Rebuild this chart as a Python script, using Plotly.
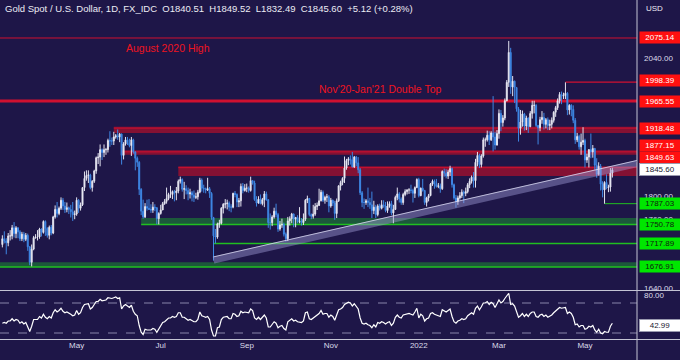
import pandas as pd
import plotly.graph_objects as go

# ---------------- data ----------------
title_text = "Gold Spot / U.S. Dollar, 1D, FX_IDC  O1840.51  H1849.52  L1832.49  C1845.60  +5.12 (+0.28%)"
first_date = "2021-03-10"

opens = [
    1716,1726,1722,1719,1731,1731,1745,1735,1745,1738,1726,1734,1725,1732,1712,1685,
    1708,1728,1729,1729,1743,1737,1756,1744,1732,1746,1736,1764,1777,1770,1779,1793,1783,1777,1780,1777,1773,1768,
    1769,1793,1779,1785,1815,1831,1836,1837,1815,1826,1844,1867,1868,1881,1876,1881,1881,1897,1896,1896,1903,
    1905,1903,1908,1871,1891,1898,1893,1888,1898,1877,1866,1859,1812,1774,1764,1782,1779,1777,1776,1781,1780,1761,
    1770,1776,1787,1791,1796,1803,1803,1808,1806,1809,1826,1829,1812,1813,1810,1804,1806,1802,1798,1799,1807,1828,
    1814,1813,1811,1813,1805,1763,1731,1729,1752,1753,1779,1786,1787,1788,1781,1781,1805,1803,1790,1792,1817,1810,
    1814,1814,1810,1827,1823,1794,1788,1795,1787,1794,1804,1794,1754,1754,1764,1774,1768,1743,1750,1751,1734,1726,
    1757,1761,1769,1760,1763,1756,1757,1754,1760,1793,1796,1768,1765,1769,1782,1784,1792,1807,1793,1798,1799,
    1783,1793,1788,1770,1792,1818,1824,1831,1849,1862,1865,1863,1851,1868,1858,1846,1806,1789,1789,1792,1789,1785,
    1775,1781,1768,1783,1779,1785,1783,1775,1783,1787,1771,1777,1798,1804,1795,1789,1803,1808,1811,1811,1810,1805,1815,
    1829,1801,1814,1810,1789,1797,1801,1821,1826,1821,1817,1818,1813,1843,1840,1835,1842,1848,1820,1797,1791,
    1797,1801,1807,1805,1808,1820,1826,1833,1827,1859,1871,1855,1870,1898,1898,1906,1898,1910,1903,1889,
    1909,1944,1928,1936,1966,1998,2050,1990,2000,1989,1952,1918,1929,1943,1922,1936,1921,1944,1958,1958,1923,1919,1933,
    1937,1925,1933,1923,1925,1932,1946,1954,1966,1977,1974,1975,1979,1950,1958,1951,1932,1898,1904,1886,1894,
    1897,1863,1868,1881,1877,1883,1854,1838,1852,1821,1811,1824,1815,1816,1840.51,
]
highs = [
    1732,1739,1727,1736,1741,1750,1755,1748,1746,1741,1738,1738,1736,1735,1713,1716,
    1731,1734,1741,1745,1744,1758,1758,1746,1749,1750,1766,1784,1790,1782,1798,1797,1790,1789,1782,1785,1790,1775,
    1798,1795,1789,1816,1843,1845,1845,1839,1828,1846,1869,1875,1890,1883,1890,1884,1900,1913,1902,1912,1908,
    1916,1910,1909,1894,1903,1903,1900,1903,1900,1878,1869,1861,1814,1794,1788,1794,1795,1786,1790,1786,1781,1772,
    1785,1790,1795,1815,1806,1818,1810,1811,1816,1829,1834,1831,1825,1819,1815,1813,1809,1810,1806,1811,1832,1831,
    1820,1815,1832,1816,1807,1764,1743,1754,1759,1781,1788,1795,1794,1791,1786,1806,1809,1805,1797,1822,1823,1821,
    1822,1817,1834,1828,1827,1800,1800,1803,1797,1809,1808,1795,1770,1767,1780,1787,1771,1757,1761,1754,1737,1764,
    1765,1771,1770,1764,1767,1781,1762,1770,1795,1801,1797,1770,1785,1788,1789,1813,1811,1810,1801,1804,1802,
    1797,1794,1792,1796,1819,1827,1833,1869,1865,1868,1871,1877,1870,1870,1868,1849,1809,1796,1795,1815,1797,1808,
    1792,1785,1786,1787,1793,1793,1790,1791,1791,1792,1785,1801,1815,1807,1798,1806,1812,1812,1814,1820,1813,1817,1831,
    1832,1815,1830,1811,1799,1804,1823,1829,1829,1830,1823,1822,1845,1848,1847,1846,1853,1850,1822,1802,1801,
    1807,1812,1810,1815,1823,1831,1836,1842,1865,1877,1874,1873,1902,1902,1914,1913,1913,1974,1912,1915,
    1951,1950,1941,1970,2002,2070,2058,2009,2001,1990,1955,1950,1949,1945,1940,1937,1948,1966,1966,1960,1924,1938,1948,
    1945,1936,1937,1933,1937,1948,1957,1970,1981,1982,1980,1998,1981,1960,1960,1958,1936,1910,1907,1909,1920,
    1900,1874,1882,1909,1889,1884,1866,1859,1856,1826,1826,1838,1820,1849,1849.52,
]
lows = [
    1711,1718,1699,1713,1723,1725,1728,1727,1727,1722,1722,1720,1722,1705,1680,1678,
    1706,1726,1723,1726,1730,1735,1731,1728,1725,1732,1734,1761,1763,1767,1776,1776,1771,1772,1769,1763,1757,1760,
    1766,1771,1775,1783,1809,1827,1823,1812,1808,1823,1839,1856,1852,1863,1868,1872,1876,1886,1889,1889,1900,
    1898,1894,1855,1864,1888,1889,1885,1870,1874,1845,1851,1802,1767,1761,1762,1775,1776,1771,1771,1774,1751,1751,
    1768,1776,1785,1787,1793,1797,1795,1791,1793,1805,1822,1808,1795,1803,1793,1796,1791,1790,1795,1794,1805,1808,
    1806,1805,1809,1797,1759,1688,1718,1726,1745,1751,1770,1779,1777,1774,1772,1779,1798,1781,1781,1782,1805,1808,
    1807,1806,1808,1820,1792,1782,1787,1786,1784,1781,1792,1745,1742,1748,1761,1763,1738,1740,1745,1730,1721,1722,
    1749,1753,1746,1746,1753,1753,1749,1750,1757,1788,1765,1760,1761,1766,1776,1783,1791,1790,1787,1790,1772,
    1780,1783,1759,1762,1790,1810,1819,1823,1846,1854,1855,1850,1849,1852,1840,1802,1781,1778,1785,1781,1778,1762,
    1769,1762,1765,1775,1777,1780,1772,1771,1780,1767,1753,1776,1793,1789,1785,1785,1800,1803,1804,1805,1789,1797,1814,
    1798,1800,1808,1785,1782,1791,1800,1818,1813,1815,1814,1806,1811,1834,1831,1830,1835,1815,1794,1780,1785,
    1794,1797,1788,1800,1805,1814,1822,1815,1815,1852,1849,1850,1867,1886,1895,1889,1896,1878,1881,1888,
    1900,1913,1921,1932,1965,1990,1978,1974,1962,1947,1895,1907,1921,1914,1915,1910,1920,1935,1944,1920,1890,1913,1926,
    1916,1918,1915,1915,1918,1928,1938,1950,1961,1960,1969,1969,1941,1942,1939,1927,1891,1894,1881,1872,1889,
    1850,1858,1850,1866,1867,1846,1832,1836,1810,1798,1787,1812,1807,1808,1832.49,
]
closes = [
    1726,1722,1719,1731,1731,1745,1735,1745,1738,1726,1734,1725,1732,1712,1685,1708,
    1728,1729,1729,1743,1737,1756,1744,1732,1746,1736,1764,1777,1770,1779,1793,1783,1777,1780,1777,1773,1768,1769,
    1793,1779,1785,1815,1831,1836,1837,1815,1826,1844,1867,1868,1881,1876,1881,1881,1897,1896,1896,1903,1905,
    1903,1908,1871,1891,1898,1893,1888,1898,1877,1866,1859,1812,1774,1764,1782,1779,1777,1776,1781,1780,1761,1770,
    1776,1787,1791,1796,1803,1803,1808,1806,1809,1826,1829,1812,1813,1810,1804,1806,1802,1798,1799,1807,1828,1814,
    1813,1811,1813,1805,1763,1731,1729,1752,1753,1779,1786,1787,1788,1781,1781,1805,1803,1790,1792,1817,1810,1814,
    1814,1810,1827,1823,1794,1788,1795,1787,1794,1804,1794,1754,1754,1764,1774,1768,1743,1750,1751,1734,1726,1757,
    1761,1769,1760,1763,1756,1757,1754,1760,1793,1796,1768,1765,1769,1782,1784,1792,1807,1793,1798,1799,1783,
    1793,1788,1770,1792,1818,1824,1831,1849,1862,1865,1863,1851,1868,1858,1846,1806,1789,1789,1792,1789,1785,1775,
    1781,1768,1783,1779,1785,1783,1775,1783,1787,1771,1777,1798,1804,1795,1789,1803,1808,1811,1811,1810,1805,1815,1829,
    1801,1814,1810,1789,1797,1801,1821,1826,1821,1817,1818,1813,1843,1840,1835,1842,1848,1820,1797,1791,1797,
    1801,1807,1805,1808,1820,1826,1833,1827,1859,1871,1855,1870,1898,1898,1906,1898,1910,1903,1889,1909,
    1944,1928,1936,1966,1998,2050,1990,2000,1989,1952,1918,1929,1943,1922,1936,1921,1944,1958,1958,1923,1919,1933,1937,
    1925,1933,1923,1925,1932,1946,1954,1966,1977,1974,1975,1979,1950,1958,1951,1932,1898,1904,1886,1894,1897,
    1863,1868,1881,1877,1883,1854,1838,1852,1821,1811,1824,1815,1816,1840.48,1845.60,
]
rsi_values = [
    43,44,43,46,46,49,46,48,47,43,45,42,44,38,32,39,
    48,48,48,52,50,55,51,49,52,50,57,61,58,60,63,59,57,58,57,55,53,54,
    60,55,57,64,68,69,69,62,64,68,72,72,75,73,74,74,77,76,76,77,78,
    76,77,62,66,68,66,64,67,59,55,53,40,31,28,35,34,34,34,36,35,31,35,
    40,44,45,47,50,50,52,51,52,57,57,51,51,49,47,48,46,45,45,48,58,53,
    52,51,52,48,34,26,26,37,38,48,51,51,52,49,49,56,55,52,53,59,57,58,
    58,57,62,60,50,48,51,48,51,54,50,38,38,42,45,43,37,39,40,36,34,45,
    47,49,46,47,45,45,44,46,57,58,49,48,50,53,54,56,60,55,56,56,51,
    54,52,47,54,61,62,64,68,70,71,70,66,69,66,62,50,43,42,43,41,40,37,
    41,38,44,43,45,44,42,44,45,40,43,51,54,51,50,54,55,56,56,55,54,58,63,
    50,55,53,46,49,50,56,57,55,54,54,52,61,60,58,60,62,52,45,43,46,
    47,49,48,49,53,55,57,55,63,66,61,65,70,70,72,68,71,69,64,69,
    74,70,72,76,79,83,68,69,66,58,51,53,56,52,55,52,56,58,58,52,51,54,55,
    52,54,51,52,54,57,59,62,64,63,63,64,56,58,56,51,41,42,38,40,40,
    35,36,39,38,40,34,31,35,30,29,32,31,31,39,42.99,
]

month_starts = ["2021-05-01", "2021-07-01", "2021-09-01", "2021-11-01", "2022-01-01", "2022-03-01", "2022-05-01"]
month_labels = ["May", "Jul", "Sep", "Nov", "2022", "Mar", "May"]
price_tick_values = [1640, 1760, 1800, 2040]
rsi_tick_values = [80]
rsi_guides = [70, 30]

# horizontal levels
level_prices = [2075.14, 1998.39, 1965.55, 1918.48, 1877.15, 1849.63, 1787.03, 1750.78, 1717.89, 1676.91]
level_kinds = ["res", "res", "res", "res", "res", "res", "sup", "sup", "sup", "sup"]
level_starts = [None, "2022-04-18", None, "2021-05-28", "2021-06-03", "2021-07-14", "2022-05-16", "2021-06-17", "2021-08-09", None]
zone_lows = [None, None, None, 1910, 1872, 1835, None, 1751, None, 1677]
zone_highs = [None, None, None, 1921, 1880, 1852, None, 1762, None, 1685]
level_widths = [1, 1.3, 3, 1, 1, 1, 1, 1.5, 1.5, 1.5]
label_shifts = [0, 2, 0, 0, 6, 10, 0, 0, 0, 0]
last_close = 1845.60
last_rsi = 42.99

trend_dates = ["2021-08-09", "2022-01-28"]
trend_prices = [1689, 1785]

notes = [("August 2020 High", 2075.14), ("Nov'20-Jan'21 Double Top", 1965.55)]

# ---------------- style ----------------
BG = "#1e1648"
TXT = "#dcdcea"
RED = "#d01030"
RED_ZONE = "rgba(150,16,48,0.85)"
GREEN = "#20c020"
GREEN_ZONE = "rgba(28,100,58,0.85)"
FONT = "Liberation Sans"
W, H = 680, 360
ML, MR, MT, MB = 0, 43, 0, 20
plot_h = H - MT - MB
main_dom = [(plot_h - 290) / plot_h, 1.0]
rsi_dom = [(plot_h - 339) / plot_h, (plot_h - 291) / plot_h]
price_range = [1636.9, 2141.2]
rsi_range = [22, 86]
x_range = [-1.2, 324.6]
right_edge = W / (W - MR - ML)

dates = pd.bdate_range(first_date, periods=len(closes))
xi = list(range(len(closes)))


def idx_of(d):
    return int(dates.searchsorted(pd.Timestamp(d)))


tickvals = [idx_of(m) for m in month_starts]

fig = go.Figure()
fig.add_trace(go.Candlestick(
    x=xi, open=opens, high=highs, low=lows, close=closes,
    increasing=dict(line=dict(color="#e4e4f0", width=1), fillcolor="#ffffff"),
    decreasing=dict(line=dict(color="#3e87e4", width=1), fillcolor="#3e87e4"),
    whiskerwidth=0, hoverinfo="skip", showlegend=False, xaxis="x", yaxis="y",
))
fig.add_trace(go.Scatter(
    x=xi, y=rsi_values, mode="lines", line=dict(color="#ffffff", width=1.2),
    hoverinfo="skip", showlegend=False, xaxis="x", yaxis="y2",
))

shapes = []
annotations = []
for p, kind, st, zl, zh, lw, sh in zip(level_prices, level_kinds, level_starts, zone_lows, zone_highs, level_widths, label_shifts):
    col = RED if kind == "res" else GREEN
    zcol = RED_ZONE if kind == "res" else GREEN_ZONE
    if st is None:
        xr, x0, x1 = "paper", 0, 1
    else:
        xr, x0, x1 = "x", idx_of(st), x_range[1]
    if zl is not None:
        shapes.append(dict(type="rect", xref=xr, yref="y", x0=x0, x1=x1, y0=zl, y1=zh,
                           fillcolor=zcol, line=dict(width=0), layer="below"))
    shapes.append(dict(type="line", xref=xr, yref="y", x0=x0, x1=x1, y0=p, y1=p,
                       line=dict(color=col, width=lw), layer="below"))
    annotations.append(dict(
        xref="paper", yref="y", x=1, y=p, xanchor="left", yanchor="middle", xshift=2, yshift=sh,
        text=f"{p:.2f}", showarrow=False, width=40, height=11, align="center", valign="middle",
        bgcolor="#ff1010" if kind == "res" else "#00e600", borderpad=0,
        font=dict(family=FONT, size=8, color="#ffffff" if kind == "res" else "#102010"),
    ))

# current price and rsi boxes
annotations.append(dict(xref="paper", yref="y", x=1, y=last_close, xanchor="left", yanchor="middle", xshift=2,
                        text=f"{last_close:.2f}", showarrow=False, width=40, height=11, borderpad=0,
                        bgcolor="#ffffff", bordercolor="#9a9ab0", borderwidth=1,
                        font=dict(family=FONT, size=8, color="#202030")))
annotations.append(dict(xref="paper", yref="y2", x=1, y=last_rsi, xanchor="left", yanchor="middle", xshift=2, yshift=-2,
                        text=f"{last_rsi:.2f}", showarrow=False, width=40, height=11, borderpad=0,
                        bgcolor="#ffffff", bordercolor="#9a9ab0", borderwidth=1,
                        font=dict(family=FONT, size=8, color="#202030")))

# trendline
t0, t1 = idx_of(trend_dates[0]), idx_of(trend_dates[1])
slope = (trend_prices[1] - trend_prices[0]) / (t1 - t0)
y_end = trend_prices[0] + slope * (x_range[1] - t0)
shapes.append(dict(type="line", xref="x", yref="y", x0=t0, x1=x_range[1], y0=trend_prices[0], y1=y_end,
                   line=dict(color="rgba(160,155,215,0.45)", width=7), layer="above"))
shapes.append(dict(type="line", xref="x", yref="y", x0=t0, x1=x_range[1], y0=trend_prices[0] + 5.5, y1=y_end + 5.5,
                   line=dict(color="rgba(235,235,255,0.7)", width=1), layer="above"))

# rsi guides
for g in rsi_guides:
    shapes.append(dict(type="line", xref="paper", yref="y2", x0=0, x1=1, y0=g, y1=g,
                       line=dict(color="#8884aa", width=1, dash="dash"), layer="below"))

# separators
sep_col = "#c4c4d4"
shapes.append(dict(type="line", xref="paper", yref="paper", x0=0, x1=right_edge,
                   y0=(plot_h - 290.5) / plot_h, y1=(plot_h - 290.5) / plot_h, line=dict(color=sep_col, width=1)))
shapes.append(dict(type="line", xref="paper", yref="paper", x0=0, x1=right_edge,
                   y0=(plot_h - 339.5) / plot_h, y1=(plot_h - 339.5) / plot_h, line=dict(color=sep_col, width=1)))
shapes.append(dict(type="line", xref="paper", yref="paper", x0=1, x1=1,
                   y0=-MB / plot_h, y1=1, line=dict(color=sep_col, width=1)))

# notes
annotations.append(dict(xref="paper", yref="y", x=168 / 637, y=notes[0][1], xanchor="center", yanchor="top", yshift=-2,
                        text=notes[0][0], showarrow=False, font=dict(family=FONT, size=10.5, color="#ee1420")))
annotations.append(dict(xref="paper", yref="y", x=380 / 637, y=notes[1][1], xanchor="center", yanchor="bottom", yshift=4,
                        text=notes[1][0], showarrow=False, font=dict(family=FONT, size=10.5, color="#ee1420")))
annotations.append(dict(xref="paper", yref="paper", x=0, y=1, xanchor="left", yanchor="top", xshift=3, yshift=-1,
                        text=title_text.replace("  ", "&nbsp;&nbsp;"), showarrow=False,
                        font=dict(family=FONT, size=9.5, color="#ececf4")))
annotations.append(dict(xref="paper", yref="paper", x=1, y=1, xanchor="left", yanchor="top", xshift=7, yshift=-2,
                        text="USD", showarrow=False, font=dict(family=FONT, size=8, color="#ececf4")))

fig.update_layout(
    width=W, height=H, margin=dict(l=ML, r=MR, t=MT, b=MB, pad=0),
    paper_bgcolor=BG, plot_bgcolor=BG, showlegend=False,
    font=dict(family=FONT, size=8, color=TXT),
    xaxis=dict(domain=[0, 1], range=x_range, anchor="y2", tickmode="array", tickvals=tickvals, ticktext=month_labels,
               showgrid=False, zeroline=False, showline=False, ticks="", tickfont=dict(size=8, color=TXT),
               rangeslider=dict(visible=False), fixedrange=True),
    yaxis=dict(domain=main_dom, range=price_range, anchor="x", side="right", tickmode="array",
               tickvals=price_tick_values, tickformat=".2f", showgrid=False, zeroline=False, showline=False,
               ticks="", tickfont=dict(size=8, color=TXT), ticklabelstandoff=6),
    yaxis2=dict(domain=rsi_dom, range=rsi_range, anchor="x", side="right", tickmode="array",
                tickvals=rsi_tick_values, tickformat=".2f", showgrid=False, zeroline=False, showline=False,
                ticks="", tickfont=dict(size=8, color=TXT), ticklabelstandoff=6),
    shapes=shapes, annotations=annotations,
)

fig.write_html("out.html", config={"displayModeBar": False},
               post_script="document.body.style.margin='0';document.body.style.overflow='hidden';document.body.style.background='" + BG + "';")
